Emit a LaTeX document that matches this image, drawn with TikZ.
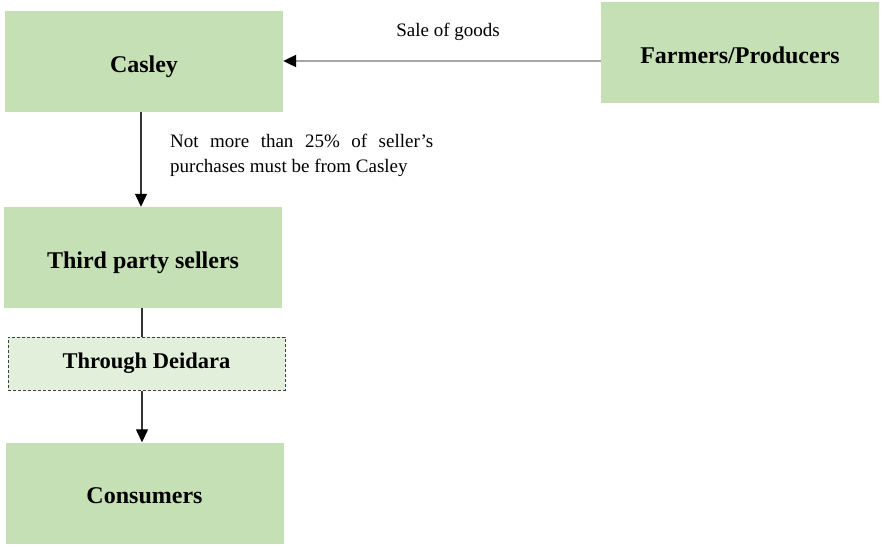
\documentclass[tikz,border=0pt]{standalone}
\usepackage{fontspec}
\setmainfont{Liberation Serif}
\usetikzlibrary{arrows.meta}
\definecolor{boxgreen}{HTML}{C5E0B4}
\definecolor{palegreen}{HTML}{E2EFDA}
\definecolor{linegray}{HTML}{A6A6A6}
\begin{document}
\begin{tikzpicture}[x=1pt,y=-1pt,
  mainbox/.style={fill=boxgreen,draw=none,minimum width=278pt,minimum height=101pt,
    inner sep=0pt,text height=26pt,text depth=5pt,
    font=\fontsize{24}{28}\selectfont\bfseries},
  viabox/.style={fill=palegreen,draw=black!75,dash pattern=on 3pt off 2pt,line width=1pt,
    minimum width=277pt,minimum height=53pt,inner sep=0pt,
    font=\fontsize{22.5}{26}\selectfont\bfseries},
  tip/.style={-{Triangle[length=13pt,width=12pt,color=black]}},
  flow/.style={tip,line width=1.3pt,draw=black!80},
  note/.style={font=\fontsize{19}{25}\selectfont,inner sep=0pt}]
\useasboundingbox (0,0) rectangle (882,546);
\node[mainbox] (casley) at (144,61.5) {Casley};
\node[mainbox] (farmers) at (740,52.5) {Farmers/Producers};
\node[mainbox] (third) at (143,257.5) {Third party sellers};
\node[viabox] (deidara) at (146.5,363.5) {Through Deidara};
\node[mainbox] (consumers) at (144.5,493) {Consumers};
% sale of goods from producers to Casley
\coordinate (fromfarm) at (farmers.west |- 0,61);
\draw[tip,draw=linegray,line width=2.2pt] (fromfarm) -- (casley.east |- fromfarm);
\node[note] (sale) at (448,31.5) {Sale of goods};
% Casley to third party sellers
\draw[flow] (casley.south -| 141,0) -- (third.north -| 141,0);
\node[note,align=left,anchor=north west] (rule) at (170,134)
  {\makebox[263pt][s]{Not more than 25\% of seller's}\\purchases must be from Casley};
% third party sellers through Deidara to consumers
\draw[line width=1.3pt,draw=black!80] (third.south -| 142,0) -- (deidara.north -| 142,0);
\draw[flow] (deidara.south -| 142,0) -- (consumers.north -| 142,0);
\end{tikzpicture}
\end{document}
